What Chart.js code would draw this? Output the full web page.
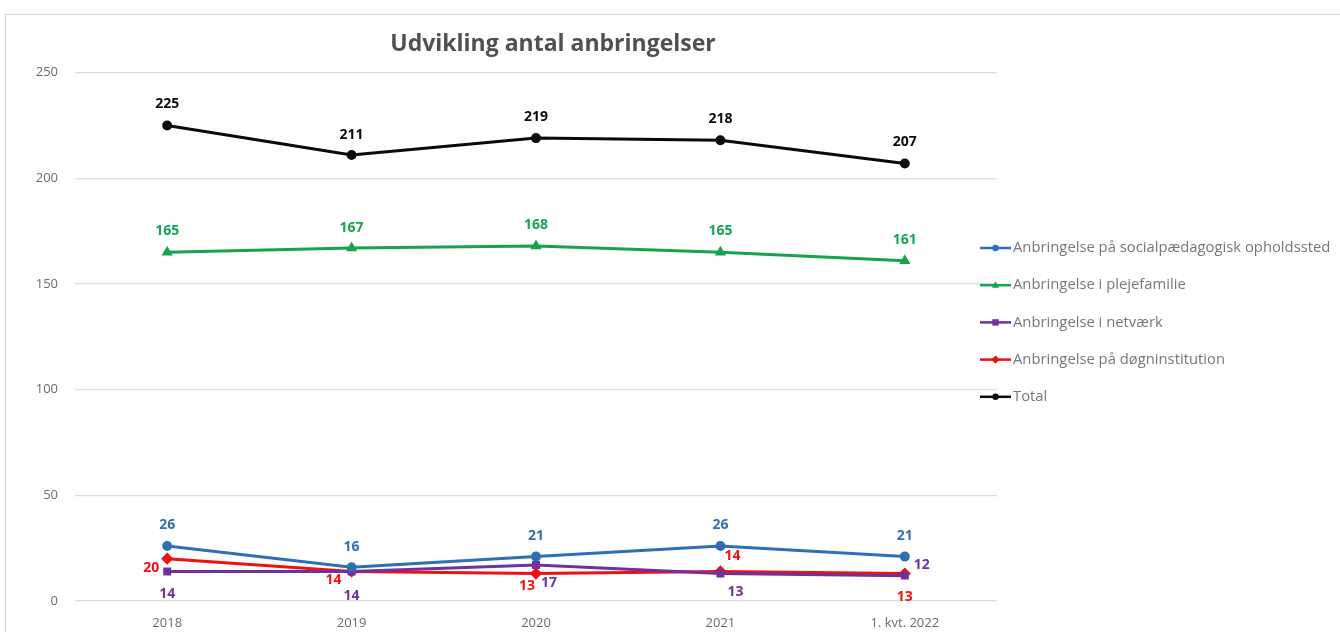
<!DOCTYPE html>
<html>
<head>
<meta charset="utf-8">
<script src="https://cdn.jsdelivr.net/npm/chart.js@4/dist/chart.umd.min.js"></script>
<style>
  body { margin: 0; background: #fff; }
  #wrap { position: relative; width: 1340px; height: 632px; }
  #frame { position: absolute; left: 5px; top: 14px; width: 1400px; height: 700px;
           border: 1px solid #d6d6d6; pointer-events: none; }
</style>
</head>
<body>
<div id="wrap">
  <canvas id="chart" width="1340" height="632"></canvas>
  <div id="frame"></div>
</div>
<script>
const labels = ['2018', '2019', '2020', '2021', '1. kvt. 2022'];
const seriesNames = [
  'Anbringelse på socialpædagogisk opholdssted',
  'Anbringelse i plejefamilie',
  'Anbringelse i netværk',
  'Anbringelse på døgninstitution',
  'Total'
];
const opholdssted = [26, 16, 21, 26, 21];
const plejefamilie = [165, 167, 168, 165, 161];
const netvaerk = [14, 14, 17, 13, 12];
const doegninstitution = [20, 14, 13, 14, 13];
const total = [225, 211, 219, 218, 207];
const yTicks = [0, 50, 100, 150, 200, 250];

const colors = ['#2f6fb3', '#16a34f', '#7030a0', '#f01010', '#0a0a0a'];
const shapes = ['circle', 'triangle', 'rect', 'rectRot', 'circle'];

// where each value label sits relative to its point [dx, dy]
const labelOffsets = [
  [[0, -21], [0, -20], [0, -21], [0, -21], [0, -21]],
  [[0, -21], [0, -20], [0, -21], [0, -21], [0, -21]],
  [[0, 23], [0, 25], [13, 18], [15, 18], [17, -11]],
  [[-16, 9], [-18, 9], [-9, 12], [12, -15], [0, 23]],
  [[0, -21], [0, -20], [0, -21], [0, -21], [0, -21]]
];

const values = [opholdssted, plejefamilie, netvaerk, doegninstitution, total];

function drawShape(ctx, shape, x, y, r) {
  ctx.beginPath();
  if (shape === 'circle') {
    ctx.arc(x, y, r, 0, Math.PI * 2);
  } else if (shape === 'triangle') {
    ctx.moveTo(x, y - r * 1.2);
    ctx.lineTo(x + r * 1.1, y + r * 0.8);
    ctx.lineTo(x - r * 1.1, y + r * 0.8);
    ctx.closePath();
  } else if (shape === 'rect') {
    ctx.rect(x - r, y - r, r * 2, r * 2);
  } else {
    ctx.moveTo(x, y - r * 1.3);
    ctx.lineTo(x + r * 1.3, y);
    ctx.lineTo(x, y + r * 1.3);
    ctx.lineTo(x - r * 1.3, y);
    ctx.closePath();
  }
  ctx.fill();
}

const valueLabels = {
  id: 'valueLabels',
  afterDatasetsDraw(chart) {
    const ctx = chart.ctx;
    ctx.save();
    ctx.font = 'bold 14px "Open Sans", sans-serif';
    ctx.textAlign = 'center';
    ctx.textBaseline = 'middle';
    chart.data.datasets.forEach((ds, i) => {
      const meta = chart.getDatasetMeta(i);
      ctx.fillStyle = ds.borderColor;
      meta.data.forEach((pt, j) => {
        const off = labelOffsets[i][j];
        ctx.fillText(ds.data[j], pt.x + off[0], pt.y + off[1]);
      });
    });
    ctx.restore();
  }
};

const sideLegend = {
  id: 'sideLegend',
  afterDraw(chart) {
    const ctx = chart.ctx;
    ctx.save();
    ctx.font = '14.8px "Open Sans", sans-serif';
    ctx.textBaseline = 'middle';
    chart.data.datasets.forEach((ds, i) => {
      const y = 248 + i * 37.2;
      ctx.strokeStyle = ds.borderColor;
      ctx.fillStyle = ds.borderColor;
      ctx.lineWidth = 2.5;
      ctx.beginPath();
      ctx.moveTo(980, y);
      ctx.lineTo(1011, y);
      ctx.stroke();
      drawShape(ctx, shapes[i], 995.5, y, 3.2);
      ctx.fillStyle = '#777777';
      ctx.fillText(ds.label, 1013, y);
    });
    ctx.restore();
  }
};

// nudge the title a little right, as in the original
const titleShift = {
  id: 'titleShift',
  afterLayout(chart) {
    if (chart.titleBlock) {
      chart.titleBlock.left += 17;
      chart.titleBlock.right += 17;
    }
  }
};

new Chart(document.getElementById('chart'), {
  type: 'line',
  data: {
    labels: labels,
    datasets: values.map((v, i) => ({
      label: seriesNames[i],
      data: v,
      borderColor: colors[i],
      backgroundColor: colors[i],
      borderWidth: 3,
      pointStyle: shapes[i],
      pointRadius: shapes[i] === 'rectRot' ? 4 : 3.5,
      tension: 0
    }))
  },
  options: {
    responsive: false,
    animation: false,
    layout: { padding: { left: 5, right: 343, top: 0, bottom: 0 } },
    scales: {
      x: {
        offset: true,
        grid: { display: false },
        border: { display: false },
        ticks: { color: '#6b6b6b', font: { size: 13, family: '"Open Sans", sans-serif' }, padding: 6 },
        afterFit: (s) => { s.height = 31; }
      },
      y: {
        min: 0,
        max: 250,
        afterBuildTicks: (s) => { s.ticks = yTicks.map(v => ({ value: v })); },
        grid: { color: '#dcdcdc', lineWidth: 1.3, drawTicks: false },
        border: { display: false },
        ticks: { color: '#6b6b6b', font: { size: 13, family: '"Open Sans", sans-serif' }, padding: 17 },
        afterFit: (s) => { s.width = 70; }
      }
    },
    plugins: {
      legend: { display: false },
      tooltip: { enabled: false },
      title: {
        display: true,
        text: 'Udvikling antal anbringelser',
        color: '#505050',
        fullSize: false,
        font: { size: 23, weight: 'bold', family: '"Open Sans", sans-serif' },
        padding: { top: 31, bottom: 14 }
      }
    }
  },
  plugins: [valueLabels, sideLegend, titleShift]
});
</script>
</body>
</html>
